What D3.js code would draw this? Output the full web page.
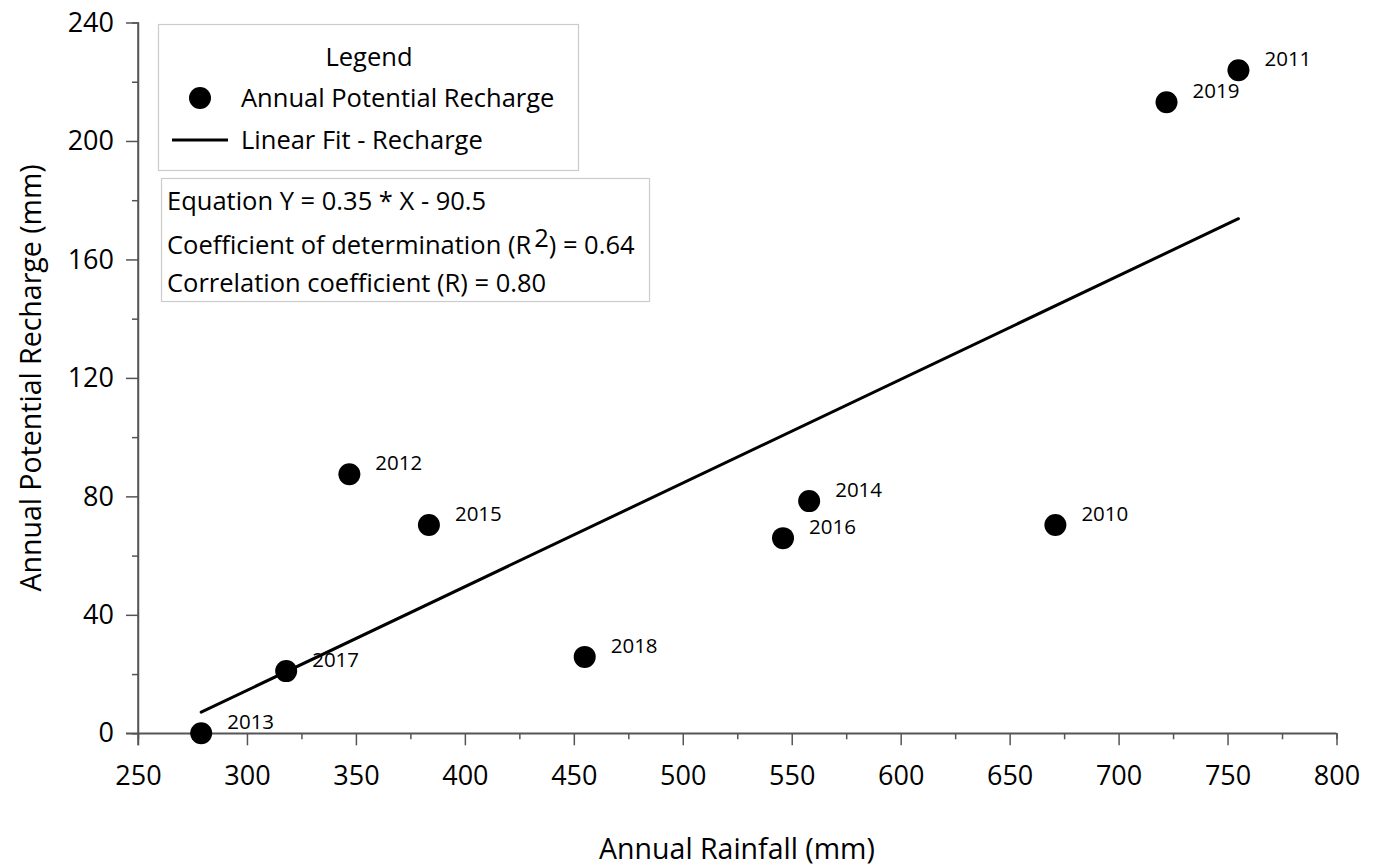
<!DOCTYPE html>
<html>
<head>
<meta charset="utf-8">
<script src="https://cdn.jsdelivr.net/npm/d3@7"></script>
<style>
  html, body { margin: 0; padding: 0; background: #fff; }
  svg { display: block; font-family: "Open Sans", "Noto Sans", sans-serif; }
</style>
</head>
<body>
<svg id="chart" width="1376" height="867"></svg>
<script>
// ---- data ----
const years     = ["2013", "2017", "2012", "2015", "2018", "2016", "2014", "2010", "2019", "2011"];
const rainfall  = [279, 318, 347, 383.5, 455, 546, 558, 671, 722, 755];
const recharge  = [0, 21, 87.5, 70.3, 25.8, 65.9, 78.4, 70.3, 213.1, 223.9];
const fitSlope = 0.35;
const fitIntercept = -90.5;
const fitRange = [279, 755];
const xTicks = [250, 300, 350, 400, 450, 500, 550, 600, 650, 700, 750, 800];
const xMinorTicks = [275, 325, 375, 425, 475, 525, 575, 625, 675, 725, 775];
const yTicks = [0, 40, 80, 120, 160, 200, 240];
const yMinorTicks = [20, 60, 100, 140, 180, 220];
const legendItems = ["Annual Potential Recharge", "Linear Fit - Recharge"];
const statsLines = ["Equation Y = 0.35 * X - 90.5", "Correlation coefficient (R) = 0.80"];

const svg = d3.select("#chart");
const x = d3.scaleLinear().domain([250, 800]).range([138, 1336.5]);
const y = d3.scaleLinear().domain([0, 240]).range([733.3, 22.5]);
const axisColor = "#555";

// X axis
const gx = svg.append("g").attr("transform", `translate(0,${y(0)})`)
  .call(d3.axisBottom(x).tickValues(xTicks).tickSize(12).tickPadding(21).tickFormat(d3.format("d")));
const gxm = svg.append("g").attr("transform", `translate(0,${y(0)})`)
  .call(d3.axisBottom(x).tickValues(xMinorTicks).tickSize(6).tickFormat(""));
// Y axis
const gy = svg.append("g").attr("transform", `translate(${x(250)},0)`)
  .call(d3.axisLeft(y).tickValues(yTicks).tickSize(12).tickPadding(12).tickFormat(d3.format("d")));
const gym = svg.append("g").attr("transform", `translate(${x(250)},0)`)
  .call(d3.axisLeft(y).tickValues(yMinorTicks).tickSize(6).tickFormat(""));

[gx, gxm, gy, gym].forEach(g => {
  g.select(".domain").attr("stroke", axisColor).attr("stroke-width", 1.5);
  g.selectAll(".tick line").attr("stroke", axisColor).attr("stroke-width", 1.5);
  g.selectAll(".tick text").attr("fill", "#000").style("font-size", "27px").style("font-family", "'Open Sans', sans-serif");
});
// extend axis lines through the corner
gx.select(".domain").attr("d", `M${x(250) - 12},0H${x(800)}`);
gy.select(".domain").attr("d", `M0,${y(0) + 12}V${y(240)}`);

// axis titles
svg.append("text").attr("x", 737).attr("y", 859).attr("text-anchor", "middle")
  .style("font-size", "28.5px").text("Annual Rainfall (mm)");
svg.append("text").attr("transform", `translate(41,${(y(0) + y(240)) / 2}) rotate(-90)`)
  .attr("text-anchor", "middle").style("font-size", "28.5px").text("Annual Potential Recharge (mm)");

// fit line
svg.append("line")
  .attr("x1", x(fitRange[0])).attr("y1", y(fitSlope * fitRange[0] + fitIntercept))
  .attr("x2", x(fitRange[1])).attr("y2", y(fitSlope * fitRange[1] + fitIntercept))
  .attr("stroke", "#000").attr("stroke-width", 3).attr("stroke-linecap", "round");

// points
const pts = years.map((yr, i) => ({ yr, xv: rainfall[i], yv: recharge[i] }));
svg.append("g").selectAll("circle").data(pts).join("circle")
  .attr("cx", d => x(d.xv)).attr("cy", d => y(d.yv)).attr("r", 11).attr("fill", "#000");
svg.append("g").selectAll("text").data(pts).join("text")
  .attr("x", d => x(d.xv) + 26).attr("y", d => y(d.yv) - 4)
  .style("font-size", "20.5px").text(d => d.yr);

// legend box
svg.append("rect").attr("x", 158.5).attr("y", 24.5).attr("width", 420).attr("height", 146)
  .attr("fill", "#fff").attr("stroke", "#ccc").attr("stroke-width", 1.2);
svg.append("text").attr("x", 369).attr("y", 66).attr("text-anchor", "middle")
  .style("font-size", "25.5px").text("Legend");
svg.append("circle").attr("cx", 200).attr("cy", 98).attr("r", 11).attr("fill", "#000");
svg.append("text").attr("x", 241).attr("y", 107).style("font-size", "25.5px").text(legendItems[0]);
svg.append("line").attr("x1", 172).attr("x2", 228).attr("y1", 140).attr("y2", 140)
  .attr("stroke", "#000").attr("stroke-width", 3);
svg.append("text").attr("x", 241).attr("y", 149).style("font-size", "25.5px").text(legendItems[1]);

// stats box
svg.append("rect").attr("x", 161.5).attr("y", 178.5).attr("width", 488).attr("height", 123)
  .attr("fill", "#fff").attr("stroke", "#ccc").attr("stroke-width", 1.2);
svg.append("text").attr("x", 167).attr("y", 210).style("font-size", "25.5px").text(statsLines[0]);
const r2 = svg.append("text").attr("x", 167).attr("y", 254).style("font-size", "25.5px");
r2.append("tspan").text("Coefficient of determination (R");
r2.append("tspan").attr("dx", 3).attr("dy", -7).text("2");
r2.append("tspan").attr("dy", 7).text(") = 0.64");
svg.append("text").attr("x", 167).attr("y", 292).style("font-size", "25.5px").text(statsLines[1]);
</script>
</body>
</html>
